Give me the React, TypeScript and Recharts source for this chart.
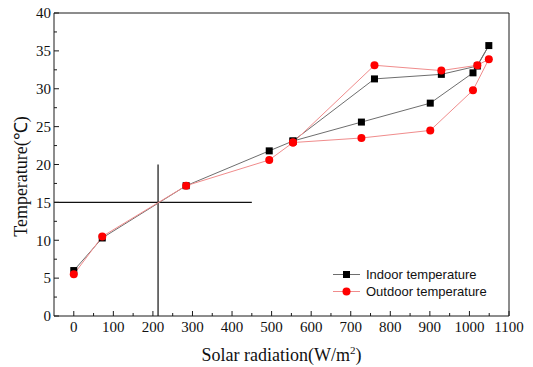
import { LineChart, Line, XAxis, YAxis, ReferenceLine } from "recharts"

// solar radiation (W/m2) for each reading, in measurement order
const radiation = [0, 72, 284, 494, 554, 727, 901, 1009, 1049, 1020, 929, 760, 554]
const indoorTemp = [6.0, 10.3, 17.2, 21.8, 23.1, 25.6, 28.1, 32.1, 35.7, 33.0, 31.9, 31.3, 23.1]
const outdoorTemp = [5.5, 10.5, 17.2, 20.6, 22.9, 23.5, 24.5, 29.8, 33.9, 33.1, 32.4, 33.1, 22.9]

const xMajor = [0, 100, 200, 300, 400, 500, 600, 700, 800, 900, 1000, 1100]
const xMinor = [50, 150, 250, 350, 450, 550, 650, 750, 850, 950, 1050]
const yMajor = [0, 5, 10, 15, 20, 25, 30, 35, 40]
const yMinor = [2.5, 7.5, 12.5, 17.5, 22.5, 27.5, 32.5, 37.5]

// crosshair marking the 15 degree point
const crossRadiation = 213
const crossTemp = 15
const crossTop = 20
const crossRight = 450

const indoorData = radiation.map((x, i) => ({ x, y: indoorTemp[i] }))
const outdoorData = radiation.map((x, i) => ({ x, y: outdoorTemp[i] }))

const xTicks = [...xMajor, ...xMinor].sort((a, b) => a - b)
const yTicks = [...yMajor, ...yMinor].sort((a, b) => a - b)

const serif = "'Liberation Serif', 'Times New Roman', serif"
const sans = "'Liberation Sans', Arial, sans-serif"
const axisColor = "#1a1a1a"
const indoorLine = "#6e6e6e"
const outdoorLine = "#f08c8c"

const BottomTick = (p: any) => {
  const major = xMajor.includes(p.payload.value)
  return (
    <g>
      <line x1={p.x} x2={p.x} y1={p.y} y2={p.y - (major ? 5 : 3)} stroke={axisColor} />
      {major && (
        <text x={p.x} y={p.y + 16} textAnchor="middle" fontFamily={serif} fontSize={15} fill="#111">
          {p.payload.value}
        </text>
      )}
    </g>
  )
}

const TopTick = (p: any) => {
  const major = xMajor.includes(p.payload.value)
  return <line x1={p.x} x2={p.x} y1={p.y} y2={p.y + (major ? 5 : 3)} stroke={axisColor} />
}

const LeftTick = (p: any) => {
  const major = yMajor.includes(p.payload.value)
  return (
    <g>
      <line x1={p.x} x2={p.x + (major ? 5 : 3)} y1={p.y} y2={p.y} stroke={axisColor} />
      {major && (
        <text x={p.x - 3} y={p.y} dy="0.35em" textAnchor="end" fontFamily={serif} fontSize={15} fill="#111">
          {p.payload.value}
        </text>
      )}
    </g>
  )
}

const RightTick = (p: any) => {
  const major = yMajor.includes(p.payload.value)
  return <line x1={p.x} x2={p.x - (major ? 5 : 3)} y1={p.y} y2={p.y} stroke={axisColor} />
}

const Square = (p: any) => (
  <rect key={`sq-${p.index}`} x={p.cx - 3.5} y={p.cy - 3.5} width={7} height={7} fill="#000" />
)

const Dot = (p: any) => <circle key={`c-${p.index}`} cx={p.cx} cy={p.cy} r={4} fill="#ff0000" />

const XTitle = (p: any) => {
  const vb = p.viewBox
  return (
    <text x={vb.x + vb.width / 2} y={vb.y + 45} textAnchor="middle" fontFamily={serif} fontSize={18} fill="#111">
      Solar radiation(W/m
      <tspan dy={-7} fontSize={11}>2</tspan>
      <tspan dy={7}>)</tspan>
    </text>
  )
}

const YTitle = (p: any) => {
  const vb = p.viewBox
  const cx = 21
  const cy = vb.y + vb.height / 2 + 12
  return (
    <text x={cx} y={cy} transform={`rotate(-90 ${cx} ${cy})`} dy="0.35em" textAnchor="middle" fontFamily={serif} fontSize={18} fill="#111">
      Temperature(℃)
    </text>
  )
}

function LegendBox() {
  const rows = [
    { label: "Indoor temperature", line: indoorLine, marker: <rect x={10} y={3} width={7} height={7} fill="#000" /> },
    { label: "Outdoor temperature", line: outdoorLine, marker: <circle cx={13.5} cy={6.5} r={4} fill="#ff0000" /> },
  ]
  return (
    <div style={{ position: "absolute", left: 333, top: 266, fontFamily: sans, fontSize: 13, color: "#111" }}>
      {rows.map((r) => (
        <div key={r.label} style={{ display: "flex", alignItems: "center", height: 17 }}>
          <svg width={27} height={13} style={{ marginRight: 6 }}>
            <line x1={0} x2={27} y1={6.5} y2={6.5} stroke={r.line} />
            {r.marker}
          </svg>
          <span>{r.label}</span>
        </div>
      ))}
    </div>
  )
}

export default function App() {
  return (
    <div style={{ position: "absolute", left: 0, top: 0, width: 533, height: 367, background: "#fff" }}>
      <LineChart width={533} height={367} margin={{ top: 12, right: 23, bottom: 0, left: 0 }}>
        <XAxis
          xAxisId={0}
          dataKey="x"
          type="number"
          domain={[-50, 1100]}
          ticks={xTicks}
          interval={0}
          height={51}
          tickSize={0}
          tickMargin={0}
          tickLine={false}
          tick={BottomTick}
          axisLine={{ stroke: axisColor }}
          allowDuplicatedCategory={false}
          label={{ content: XTitle }}
        />
        <XAxis
          xAxisId="top"
          orientation="top"
          type="number"
          domain={[-50, 1100]}
          ticks={xTicks}
          interval={0}
          height={1}
          tickSize={0}
          tickMargin={0}
          tickLine={false}
          tick={TopTick}
          axisLine={{ stroke: axisColor }}
        />
        <YAxis
          yAxisId={0}
          type="number"
          domain={[0, 40]}
          ticks={yTicks}
          interval={0}
          width={54}
          tickSize={0}
          tickMargin={0}
          tickLine={false}
          tick={LeftTick}
          axisLine={{ stroke: axisColor }}
          label={{ content: YTitle }}
        />
        <YAxis
          yAxisId="right"
          orientation="right"
          type="number"
          domain={[0, 40]}
          ticks={yTicks}
          interval={0}
          width={1}
          tickSize={0}
          tickMargin={0}
          tickLine={false}
          tick={RightTick}
          axisLine={{ stroke: axisColor }}
        />
        <ReferenceLine
          segment={[{ x: crossRadiation, y: 0 }, { x: crossRadiation, y: crossTop }]}
          stroke="#111"
          strokeWidth={1.2}
        />
        <ReferenceLine
          segment={[{ x: -50, y: crossTemp }, { x: crossRight, y: crossTemp }]}
          stroke="#111"
          strokeWidth={1.2}
        />
        <Line
          data={indoorData}
          dataKey="y"
          type="linear"
          stroke={indoorLine}
          strokeWidth={1}
          dot={Square}
          activeDot={false}
          isAnimationActive={false}
        />
        <Line
          data={outdoorData}
          dataKey="y"
          type="linear"
          stroke={outdoorLine}
          strokeWidth={1}
          dot={Dot}
          activeDot={false}
          isAnimationActive={false}
        />
      </LineChart>
      <LegendBox />
    </div>
  )
}
